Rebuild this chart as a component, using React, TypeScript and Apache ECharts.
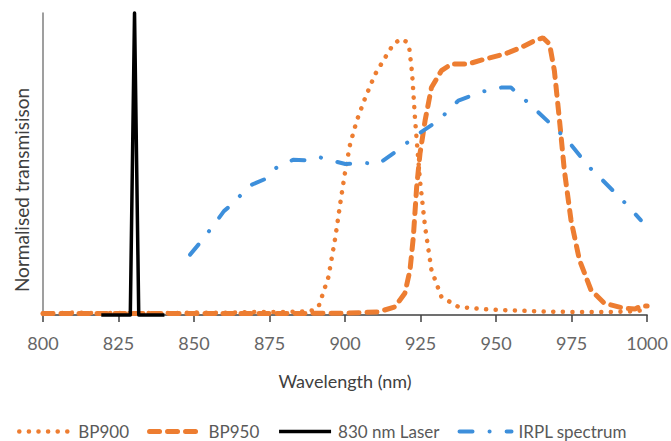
import React, { useEffect, useRef } from "react";
import * as echarts from "echarts";

// ---- Data ----
const xTicks = [800, 825, 850, 875, 900, 925, 950, 975, 1000];

const bp900Wl = [800, 810, 820, 830, 840, 850, 860, 870, 880, 886, 889, 891.2, 894.5, 896.8, 898.4, 900.1, 901.7, 903.9, 906.7, 910, 913.3, 916, 918.5, 920.3, 921.3, 922.2, 923.2, 924.8, 926.5, 928.6, 931.9, 937.5, 945, 950, 964.5, 975, 987.5, 995, 998, 1000];
const bp900T = [0.005, 0.008, 0.006, 0.007, 0.006, 0.008, 0.007, 0.01, 0.01, 0.012, 0.015, 0.027, 0.126, 0.258, 0.369, 0.479, 0.567, 0.644, 0.72, 0.798, 0.853, 0.897, 0.914, 0.905, 0.88, 0.8, 0.644, 0.446, 0.291, 0.149, 0.06, 0.027, 0.02, 0.017, 0.012, 0.01, 0.01, 0.012, 0.015, 0.015];

const bp950Wl = [800, 850, 880, 900, 905, 911, 916.5, 919.8, 921.5, 922.6, 923.7, 924.8, 926.5, 928.6, 931.9, 935.2, 940.7, 946.2, 952.8, 958.3, 962.7, 965.5, 967.7, 969.3, 971, 972.6, 974.8, 977.6, 981.4, 985.8, 992.4, 996, 998, 1000];
const bp950T = [0.005, 0.005, 0.005, 0.006, 0.008, 0.01, 0.027, 0.072, 0.149, 0.258, 0.423, 0.534, 0.644, 0.753, 0.809, 0.831, 0.831, 0.847, 0.864, 0.886, 0.908, 0.918, 0.897, 0.809, 0.644, 0.479, 0.314, 0.182, 0.083, 0.039, 0.022, 0.02, 0.03, 0.03];

const laserWl = [819.3, 828.9, 830.3, 831.7, 840.2];
const laserT = [0, 0, 1, 0, 0];

const irplWl = [848.7, 852.2, 856, 859.9, 863.7, 867.8, 873.7, 877.2, 882.8, 889.1, 891.8, 894, 900.1, 907.2, 911, 916.5, 924.3, 930.9, 937.5, 945.1, 951.7, 955, 956.1, 960.5, 969.3, 973.7, 980.3, 985.3, 993.5, 997.9];
const irplT = [0.2, 0.242, 0.291, 0.344, 0.376, 0.426, 0.451, 0.487, 0.514, 0.512, 0.522, 0.515, 0.5, 0.503, 0.5, 0.539, 0.6, 0.644, 0.71, 0.739, 0.753, 0.753, 0.742, 0.704, 0.621, 0.578, 0.495, 0.446, 0.363, 0.314];

const seriesNames = ["BP900", "BP950", "830 nm Laser", "IRPL spectrum"];

const pairs = (xs: number[], ys: number[]) => xs.map((x, i) => [x, ys[i]]);

const FONT = "Lato, 'Open Sans', sans-serif";
const ORANGE = "#ED7D31";
const BLUE = "#3D8FDB";

const styles = [
  { color: ORANGE, width: 4.5, type: [0.1, 9.5], cap: "round" },
  { color: ORANGE, width: 5, type: [10, 8], cap: "round" },
  { color: "#000000", width: 3.5, type: "solid", cap: "butt", join: "round" },
  { color: BLUE, width: 4, type: [13, 17, 0.1, 17], cap: "round" },
];
const seriesData = [
  pairs(bp900Wl, bp900T),
  pairs(bp950Wl, bp950T),
  pairs(laserWl, laserT),
  pairs(irplWl, irplT),
];

export default function App() {
  const ref = useRef<HTMLDivElement>(null);

  useEffect(() => {
    if (!ref.current) return;
    const chart = echarts.init(ref.current, undefined, { renderer: "svg" });
    chart.setOption({
      animation: false,
      backgroundColor: "#ffffff",
      grid: { left: 43, right: 23, top: 13, bottom: 126, containLabel: false },
      xAxis: {
        type: "value",
        min: xTicks[0],
        max: xTicks[xTicks.length - 1],
        interval: 25,
        name: "Wavelength (nm)",
        nameLocation: "middle",
        nameGap: 57,
        nameTextStyle: { color: "#404040", fontSize: 18, fontFamily: FONT },
        axisLine: { show: true, lineStyle: { color: "#404040", width: 1.5 } },
        axisTick: { show: true, length: 7, lineStyle: { color: "#404040", width: 1.5 } },
        axisLabel: {
          color: "#666666",
          fontSize: 18,
          fontFamily: FONT,
          margin: 19,
          formatter: (v: number) => String(v),
        },
        splitLine: { show: false },
      },
      yAxis: {
        type: "value",
        min: 0,
        max: 1,
        axisLine: { show: true, lineStyle: { color: "#7f7f7f", width: 1.5 } },
        axisTick: { show: false },
        axisLabel: { show: false },
        splitLine: { show: false },
      },
      legend: {
        data: seriesNames.map((n, i) => ({
          name: n,
          itemStyle: { color: "transparent", borderColor: "transparent", borderWidth: 0 },
          lineStyle: { color: styles[i].color, width: styles[i].width, type: styles[i].type, cap: styles[i].cap },
        })),
        left: 12,
        top: 418,
        itemWidth: 52,
        itemHeight: 10,
        itemGap: 18,
        textStyle: { color: "#595959", fontSize: 17, fontFamily: FONT, padding: [0, 0, 0, 2] },
      },
      graphic: [
        {
          type: "text",
          x: 21,
          y: 190,
          rotation: Math.PI / 2,
          style: {
            text: "Normalised transmisison",
            fontSize: 19,
            fontFamily: FONT,
            fill: "#404040",
            align: "center",
            verticalAlign: "middle",
          },
        },
      ],
      series: seriesNames.map((n, i) => ({
        name: n,
        type: "line",
        data: seriesData[i],
        symbol: "none",
        clip: false,
        lineStyle: styles[i],
        itemStyle: { color: styles[i].color },
      })),
    });
    return () => chart.dispose();
  }, []);

  return (
    <div
      ref={ref}
      style={{ position: "fixed", left: 0, top: 0, width: 671, height: 441, background: "#fff" }}
    />
  );
}
